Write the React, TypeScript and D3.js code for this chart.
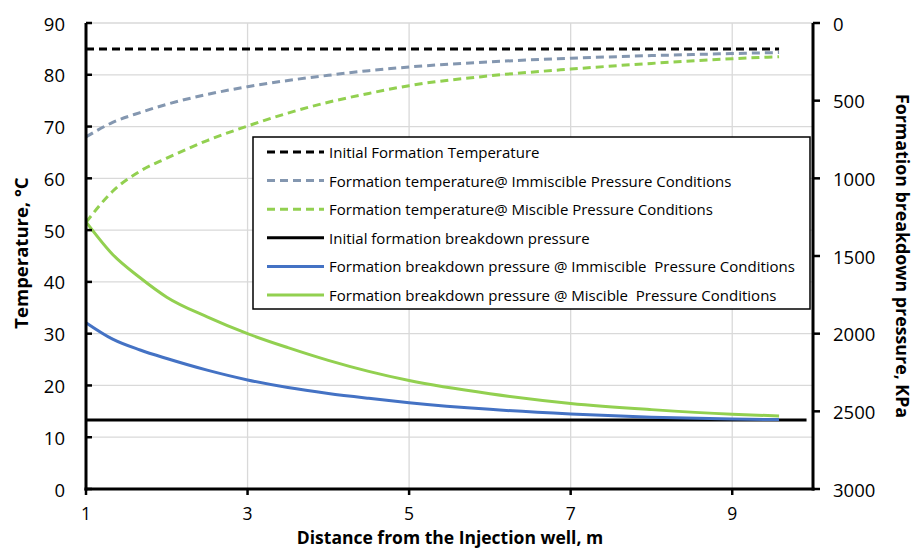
import React from "react";
import * as d3 from "d3";

// ---- data ----
const distance = [1, 1.33, 1.67, 2, 2.5, 3, 3.5, 4, 4.5, 5, 6, 7, 8, 9, 9.58];
const tempImmiscible = [68.0, 70.8, 72.7, 74.3, 76.2, 77.7, 78.9, 79.9, 80.8, 81.5, 82.5, 83.2, 83.7, 84.1, 84.3];
const tempMiscible = [51.5, 57.5, 61.4, 63.9, 67.3, 70.1, 72.6, 74.7, 76.4, 77.9, 79.8, 81.1, 82.2, 83.1, 83.5];
const pressureImmiscible = [1929, 2035, 2105, 2160, 2235, 2298, 2347, 2385, 2416, 2444, 2487, 2517, 2538, 2550, 2553];
const pressureMiscible = [1280, 1490, 1640, 1765, 1892, 2000, 2090, 2172, 2243, 2302, 2387, 2449, 2489, 2519, 2530];
const initialTempX = [1, 9.58];
const initialTemp = [85, 85];
const initialPressureX = [1, 9.92];
const initialPressure = [2555, 2555];

const xTicks = [1, 3, 5, 7, 9];
const yLeftTicks = [0, 10, 20, 30, 40, 50, 60, 70, 80, 90];
const yRightTicks = [0, 500, 1000, 1500, 2000, 2500, 3000];

const legendLabels = [
  "Initial Formation Temperature",
  "Formation temperature@ Immiscible Pressure Conditions",
  "Formation temperature@ Miscible Pressure Conditions",
  "Initial formation breakdown pressure",
  "Formation breakdown pressure @ Immiscible  Pressure Conditions",
  "Formation breakdown pressure @ Miscible  Pressure Conditions",
];

const FONT = "'Open Sans', Lato, sans-serif";

export default function App() {
  const W = 914, H = 549;
  const left = 86, right = 813, top = 23, bottom = 489;
  const x = d3.scaleLinear().domain([1, 10]).range([left, right]);
  const yL = d3.scaleLinear().domain([0, 90]).range([bottom, top]);
  const yR = d3.scaleLinear().domain([0, 3000]).range([top, bottom]);

  const lineT = (xs: number[], ys: number[]) =>
    d3.line<number>().x((_, i) => x(xs[i])).y((d) => yL(d)).curve(d3.curveMonotoneX)(ys) || "";
  const lineP = (xs: number[], ys: number[]) =>
    d3.line<number>().x((_, i) => x(xs[i])).y((d) => yR(d)).curve(d3.curveMonotoneX)(ys) || "";

  const series = [
    { d: lineT(initialTempX, initialTemp), color: "#000000", dash: "8 5" },
    { d: lineT(distance, tempImmiscible), color: "#8497B0", dash: "8 5" },
    { d: lineT(distance, tempMiscible), color: "#92D050", dash: "8 5" },
    { d: lineP(initialPressureX, initialPressure), color: "#000000", dash: "" },
    { d: lineP(distance, pressureImmiscible), color: "#4472C4", dash: "" },
    { d: lineP(distance, pressureMiscible), color: "#92D050", dash: "" },
  ];

  const lg = { x0: 253, y0: 137, x1: 810, y1: 309, rowY0: 152, rowH: 28.6 };

  return (
    <svg width={W} height={H} style={{ position: "absolute", left: 0, top: 0, background: "#fff" }}>
      {/* grid */}
      {yLeftTicks.filter((t) => t > 0).map((t) => (
        <line key={"gy" + t} x1={left} x2={right} y1={yL(t)} y2={yL(t)} stroke="#D9D9D9" strokeWidth={1.3} />
      ))}
      {xTicks.filter((t) => t > 1).map((t) => (
        <line key={"gx" + t} x1={x(t)} x2={x(t)} y1={top} y2={bottom} stroke="#D9D9D9" strokeWidth={1.3} />
      ))}

      {/* series */}
      {series.map((s, i) => (
        <path key={"s" + i} d={s.d} fill="none" stroke={s.color} strokeWidth={3} strokeDasharray={s.dash || undefined} />
      ))}

      {/* axes */}
      <line x1={left} x2={left} y1={top} y2={bottom + 1.5} stroke="#000" strokeWidth={3} />
      <line x1={right} x2={right} y1={top} y2={bottom + 1.5} stroke="#000" strokeWidth={3} />
      <line x1={left - 1.5} x2={right + 1.5} y1={bottom} y2={bottom} stroke="#000" strokeWidth={3} />

      {yLeftTicks.map((t) => (
        <g key={"yl" + t}>
          <line x1={left} x2={left + 6} y1={yL(t)} y2={yL(t)} stroke="#000" strokeWidth={2.5} />
          <text x={65} y={yL(t)} textAnchor="end" dominantBaseline="central" fontFamily={FONT} fontSize={18.5} fill="#000">
            {t}
          </text>
        </g>
      ))}
      {yRightTicks.map((t) => (
        <g key={"yr" + t}>
          <line x1={right} x2={right + 7} y1={yR(t)} y2={yR(t)} stroke="#000" strokeWidth={2.5} />
          <text x={833} y={yR(t)} textAnchor="start" dominantBaseline="central" fontFamily={FONT} fontSize={18.5} fill="#000">
            {t}
          </text>
        </g>
      ))}
      {xTicks.map((t) => (
        <g key={"xt" + t}>
          <line x1={x(t)} x2={x(t)} y1={bottom} y2={bottom + 6} stroke="#000" strokeWidth={2.5} />
          <text x={x(t)} y={519.5} textAnchor="middle" fontFamily={FONT} fontSize={17.5} fill="#000">
            {t}
          </text>
        </g>
      ))}

      {/* axis titles */}
      <text x={450} y={544} textAnchor="middle" fontFamily={FONT} fontWeight="bold" fontSize={17.5} fill="#000">
        Distance from the Injection well, m
      </text>
      <text
        transform={`translate(20, ${(top + bottom) / 2 - 3}) rotate(-90)`}
        textAnchor="middle"
        dominantBaseline="central"
        fontFamily={FONT}
        fontWeight="bold"
        fontSize={18.5}
        fill="#000"
      >
        Temperature, °C
      </text>
      <text
        transform={`translate(903, ${(top + bottom) / 2}) rotate(90)`}
        textAnchor="middle"
        dominantBaseline="central"
        fontFamily={FONT}
        fontWeight="bold"
        fontSize={17.8}
        fill="#000"
      >
        Formation breakdown pressure, KPa
      </text>

      {/* legend */}
      <rect x={lg.x0} y={lg.y0} width={lg.x1 - lg.x0} height={lg.y1 - lg.y0} fill="#fff" stroke="#000" strokeWidth={1.5} />
      {legendLabels.map((lab, i) => {
        const yy = lg.rowY0 + i * lg.rowH;
        const s = series[i];
        return (
          <g key={"lg" + i}>
            <line x1={267} x2={324} y1={yy} y2={yy} stroke={s.color} strokeWidth={3} strokeDasharray={s.dash || undefined} />
            <text
              x={329}
              y={yy}
              dominantBaseline="central"
              fontFamily={FONT}
              fontSize={15}
              fill="#000"
              style={{ whiteSpace: "pre" }}
            >
              {lab}
            </text>
          </g>
        );
      })}
    </svg>
  );
}
